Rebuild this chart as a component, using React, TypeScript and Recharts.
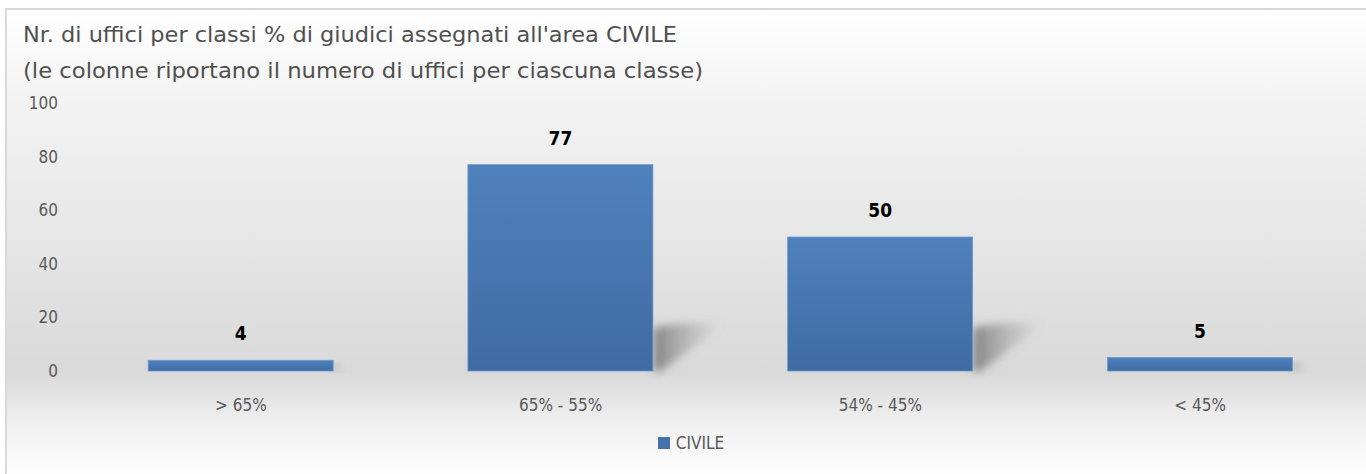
import React from "react";
import { BarChart, Bar, XAxis, YAxis, LabelList } from "recharts";

const categories = ["> 65%", "65% - 55%", "54% - 45%", "< 45%"];
const civile = [4, 77, 50, 5];
const yTicks = [0, 20, 40, 60, 80, 100];
const seriesName = "CIVILE";
const titleLines = [
  "Nr. di uffici per classi % di giudici assegnati all'area CIVILE",
  "(le colonne riportano il numero di uffici per ciascuna classe)",
];
const titleWidths = [654, 680];

const data = categories.map((c, i) => ({ name: c, CIVILE: civile[i] }));

const FONT = "'Liberation Sans Narrow', 'DejaVu Sans Condensed', 'Open Sans', sans-serif";

const BarShape = (props: any) => {
  const { x, y, width, height } = props;
  if (width == null || height == null) return null;
  const sh = Math.min(48, height * 0.6);
  const ext = 72 * (sh / 48);
  const bx = x + width;
  const by = y + height;
  return (
    <g>
      <polygon
        points={`${bx},${by - sh * 0.9} ${bx + ext * 0.4},${by - sh} ${bx + ext},${by - sh} ${bx + 8 * (sh / 48)},${by} ${bx},${by}`}
        fill="url(#shadowGrad)"
        filter="url(#blurShadow)"
      />
      <rect x={x} y={y} width={width} height={height} fill="url(#barGrad)" stroke="#7099cc" strokeWidth={0.8} />
    </g>
  );
};

export default function App() {
  return (
    <div style={{ position: "absolute", left: 0, top: 0, width: 1366, height: 474, overflow: "hidden", background: "#fff" }}>
      <div
        style={{
          position: "absolute",
          left: 5,
          top: 8,
          width: 1400,
          height: 466,
          borderTop: "2px solid #d9d9d9",
          borderLeft: "2px solid #d9d9d9",
          background: "linear-gradient(to bottom, #ffffff 0%, #f3f3f3 20%, #d9d9d9 78%, #efefef 88%, #ffffff 100%)",
        }}
      />
      <svg style={{ position: "absolute", left: 0, top: 0 }} width={1366} height={100}>
        {titleLines.map((t, i) => (
          <text
            key={i}
            x={23}
            y={42 + i * 36}
            fontFamily={FONT}
            fontSize={22}
            fill="#505050"
            textLength={titleWidths[i]}
            lengthAdjust="spacingAndGlyphs"
          >
            {t}
          </text>
        ))}
      </svg>
      <div style={{ position: "absolute", left: 0, top: 0 }}>
        <BarChart
          width={1366}
          height={474}
          data={data}
          margin={{ top: 103, right: 6, bottom: 63, left: 0 }}
          barCategoryGap="21%"
        >
          <defs>
            <linearGradient id="barGrad" x1="0" y1="0" x2="0" y2="1">
              <stop offset="0%" stopColor="#4f81bd" />
              <stop offset="100%" stopColor="#3e6ba3" />
            </linearGradient>
            <linearGradient id="shadowGrad" x1="0" y1="0" x2="1" y2="0">
              <stop offset="0%" stopColor="#4a4a4a" stopOpacity={0.6} />
              <stop offset="100%" stopColor="#8a8a8a" stopOpacity={0} />
            </linearGradient>
            <filter id="blurShadow" x="-30%" y="-30%" width="160%" height="160%">
              <feGaussianBlur stdDeviation="4" />
            </filter>
          </defs>
          <XAxis
            dataKey="name"
            axisLine={false}
            tickLine={false}
            tickSize={0}
            tickMargin={28}
            height={40}
            tick={{ fill: "#595959", fontSize: 17, fontFamily: FONT }}
          />
          <YAxis
            domain={[0, 100]}
            ticks={yTicks}
            axisLine={false}
            tickLine={false}
            tickSize={0}
            tickMargin={23}
            width={81}
            interval={0}
            tick={{ fill: "#595959", fontSize: 17, fontFamily: FONT }}
          />
          <Bar dataKey="CIVILE" name={seriesName} isAnimationActive={false} shape={<BarShape />}>
            <LabelList
              dataKey="CIVILE"
              position="top"
              offset={20}
              style={{ fill: "#000", fontSize: 19, fontWeight: "bold", fontFamily: FONT }}
            />
          </Bar>
        </BarChart>
      </div>
      <div
        style={{
          position: "absolute",
          left: 0,
          top: 433,
          width: 1366,
          display: "flex",
          justifyContent: "center",
          alignItems: "center",
          fontFamily: FONT,
          fontSize: 17,
          color: "#595959",
          lineHeight: "20px",
        }}
      >
        <span style={{ display: "inline-block", width: 12, height: 12, background: "#4472a8", marginRight: 6, marginLeft: 16 }} />
        <span>{seriesName}</span>
      </div>
    </div>
  );
}
